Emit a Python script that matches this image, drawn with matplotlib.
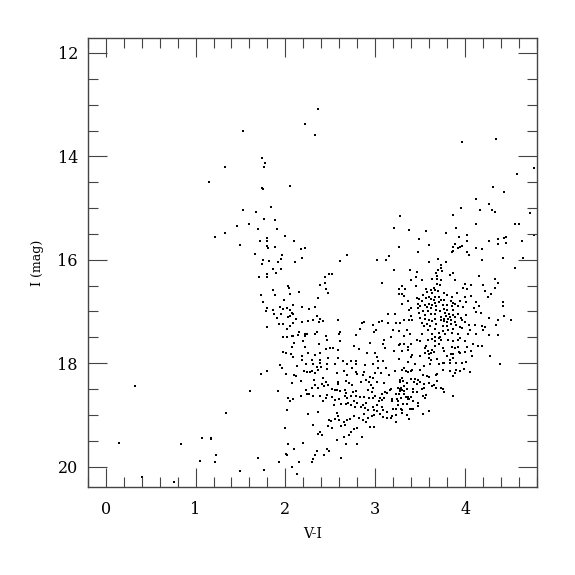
import numpy as np
import matplotlib
matplotlib.use('Agg')
import matplotlib.pyplot as plt
from matplotlib.ticker import MultipleLocator

# (V-I, I) pairs, grouped by region
bright = [(1.33,14.21),(1.15,14.50),(2.36,13.09),(2.22,13.37),(1.53,13.50),(2.33,13.59),(1.74,14.03),(1.77,14.12),(1.76,14.21),(2.05,14.58),(1.74,14.62),(3.97,13.72),(4.34,13.66),(4.77,14.22),(4.58,14.34),(4.31,14.60),(1.46,15.34),(1.33,15.48),(1.22,15.55)]

blue_branch = [(1.75,14.63),(1.84,14.98),(1.53,15.03),(1.67,15.08),(1.76,15.21),(1.88,15.23),(1.59,15.30),(1.69,15.40),(1.91,15.41),(2.00,15.54),(1.80,15.57),(1.72,15.63),(1.79,15.63),(2.10,15.63),(1.50,15.71),(1.79,15.74),(1.81,15.78),(1.88,15.76),(2.17,15.80),(2.22,15.77),(1.66,15.89),(1.96,15.91),(1.95,15.98),(1.75,16.01),(1.82,16.02),(2.19,15.97),(2.11,16.04),(1.74,16.09),(1.92,16.04),(1.86,16.18),(1.95,16.18),(1.90,16.25),(1.80,16.28),(1.80,16.34),(1.71,16.34),(2.61,16.03),(2.68,15.90),(3.02,16.01),(3.12,16.01),(3.15,15.92),(2.49,16.27),(2.52,16.28),(2.44,16.34),(2.44,16.44),(2.39,16.48),(2.45,16.56),(2.47,16.65),(3.08,16.44),(1.86,16.59),(2.03,16.51),(2.04,16.55),(1.88,16.68),(2.05,16.67),(2.15,16.63),(1.73,16.68),(2.36,16.74),(1.98,16.78),(1.75,16.81),(2.09,16.87),(2.33,16.92),(1.94,16.91),(2.02,16.94),(2.18,16.92),(1.79,16.93),(1.86,16.97),(1.78,17.00),(2.05,16.98),(2.26,16.96),(1.97,16.96),(1.95,17.04),(2.07,17.03),(1.87,17.05),(2.05,17.08),(2.08,17.05),(2.03,17.10),(1.91,17.12),(2.12,17.14),(2.35,17.09),(2.38,17.14),(2.42,17.18),(2.25,17.19),(2.19,17.21),(2.31,17.16),(2.37,17.21),(2.58,17.16),(3.14,17.05),(2.85,17.22),(2.88,17.21),(3.04,17.20),(3.07,17.18),(3.14,17.23),(2.97,17.27),(2.83,17.34),(3.01,17.36),(2.99,17.39),(2.78,17.46),(1.93,17.24),(1.97,17.25),(1.80,17.30),(2.08,17.22),(2.05,17.28),(2.02,17.34),(2.15,17.39),(2.22,17.43),(2.24,17.44),(2.14,17.46),(2.07,17.48),(2.09,17.48),(2.22,17.47),(2.33,17.43),(2.35,17.39),(2.45,17.48),(2.60,17.43),(2.61,17.39),(1.97,17.50),(2.02,17.50)]

red_upper = [(4.43,14.68),(4.12,14.82),(4.27,14.92),(3.95,14.99),(4.16,15.03),(4.30,15.03),(4.33,15.08),(4.72,15.09),(3.28,15.16),(3.87,15.14),(4.12,15.30),(4.55,15.31),(4.60,15.30),(3.21,15.39),(3.38,15.42),(3.56,15.45),(3.90,15.39),(3.79,15.49),(4.02,15.52),(4.77,15.53),(3.93,15.56),(3.49,15.60),(4.02,15.63),(4.36,15.59),(4.43,15.57),(4.45,15.56),(4.27,15.64),(4.46,15.67),(4.63,15.64),(4.37,15.70),(3.89,15.70),(3.60,15.71),(3.97,15.74),(3.94,15.76),(3.92,15.77),(3.86,15.76),(3.26,15.76),(4.12,15.77),(4.19,15.79),(3.85,15.85),(3.87,15.83),(4.02,15.85),(4.04,15.90),(3.47,15.85),(4.42,15.96),(4.64,15.96),(4.19,16.01),(3.60,16.04),(3.79,16.04),(3.70,15.99),(4.55,16.15),(3.21,16.20),(3.39,16.20),(3.46,16.23),(3.73,16.11),(3.73,16.16),(3.70,16.19),(3.74,16.21),(3.83,16.29),(3.87,16.25),(3.68,16.26),(3.69,16.31),(3.63,16.37),(3.45,16.34),(3.40,16.39),(3.52,16.40),(3.69,16.37),(3.73,16.39),(4.15,16.32),(4.33,16.37),(3.89,16.40),(4.37,16.45),(4.00,16.47),(3.72,16.48),(3.69,16.47),(4.20,16.48),(4.06,16.49),(3.45,16.50),(3.30,16.50),(3.33,16.57),(3.26,16.57),(3.56,16.57),(3.65,16.54),(3.98,16.54),(4.02,16.56),(3.62,16.59),(3.67,16.59),(4.22,16.61),(4.33,16.55),(3.30,16.66),(3.26,16.66),(3.58,16.63),(3.63,16.65),(3.70,16.61),(3.76,16.65),(3.91,16.65),(4.07,16.70),(3.32,16.70),(3.53,16.68),(3.60,16.71),(3.66,16.71),(3.71,16.72),(3.80,16.68),(3.85,16.71),(4.00,16.72),(4.25,16.71),(4.29,16.66),(3.46,16.73),(3.49,16.76),(3.56,16.74),(3.62,16.76),(3.65,16.77),(3.73,16.77),(3.76,16.77),(3.84,16.79),(3.36,16.80),(3.52,16.79),(3.66,16.84),(3.71,16.82),(3.86,16.83),(3.89,16.85),(3.94,16.79),(4.01,16.81),(4.12,16.81),(4.42,16.82),(3.47,16.85),(3.55,16.87),(3.60,16.85),(3.63,16.88),(3.75,16.87),(3.80,16.87),(3.30,16.86),(3.50,16.89),(3.57,16.91),(3.68,16.90),(3.85,16.90),(3.92,16.89),(3.98,16.92),(4.15,16.90),(4.42,16.89),(4.10,16.94),(3.40,16.93),(3.47,16.94),(3.62,16.94),(3.76,16.95),(3.37,16.98),(3.53,16.99),(3.59,16.99),(3.68,16.97),(3.72,17.00),(3.80,16.98),(3.87,16.97),(4.12,17.01),(4.18,17.02),(3.22,17.05),(3.49,17.03),(3.55,17.07),(3.62,17.05),(3.67,17.05),(3.78,17.03),(3.82,17.04),(3.86,17.06),(3.92,17.05),(4.01,17.07),(3.40,17.08),(3.73,17.10),(3.79,17.08),(3.83,17.10),(3.89,17.10),(4.26,17.12),(4.43,17.08),(3.50,17.12),(3.55,17.14),(3.67,17.14),(3.76,17.14),(3.81,17.14),(3.95,17.12),(3.32,17.16),(3.37,17.16),(3.41,17.16),(3.60,17.16),(3.73,17.17),(3.84,17.16),(3.97,17.17),(3.63,17.19),(3.77,17.19),(3.80,17.21),(3.89,17.21),(4.00,17.21),(4.36,17.17),(4.51,17.17),(3.23,17.23),(3.27,17.23),(3.52,17.23),(3.58,17.25),(3.68,17.25),(3.84,17.25),(3.90,17.26),(4.11,17.27),(4.34,17.26),(4.19,17.28),(3.54,17.28),(3.61,17.29),(3.75,17.29),(3.80,17.28),(3.94,17.30),(4.04,17.27),(3.67,17.33),(3.87,17.33),(3.97,17.32),(4.22,17.30),(3.20,17.36),(3.26,17.37),(3.35,17.36),(3.59,17.36),(3.75,17.37),(3.81,17.36),(4.05,17.36),(4.20,17.36),(3.52,17.43),(3.63,17.43),(3.71,17.42),(3.78,17.43),(3.85,17.41),(3.92,17.43),(4.03,17.44),(4.12,17.43),(4.27,17.46),(4.36,17.46),(3.39,17.43),(3.18,17.50),(3.32,17.48),(3.67,17.50),(3.72,17.50)]

faint_blue = [(0.33,18.45),(1.34,18.97),(0.15,19.55),(0.84,19.57),(1.07,19.45),(1.17,19.44),(1.17,19.46),(1.23,19.77),(1.05,19.90),(1.22,19.92),(0.40,20.21),(0.76,20.29)]

faint_mid = [(2.10,17.61),(2.20,17.57),(2.37,17.62),(2.46,17.55),(2.61,17.58),(2.07,17.68),(2.22,17.68),(2.45,17.73),(2.50,17.70),(2.53,17.70),(2.58,17.74),(2.76,17.66),(2.82,17.73),(2.94,17.60),(3.09,17.62),(3.10,17.55),(3.11,17.71),(1.97,17.79),(2.01,17.80),(2.06,17.83),(2.25,17.81),(2.33,17.85),(2.39,17.81),(2.19,17.86),(2.08,17.88),(2.18,17.93),(2.30,17.94),(2.39,17.94),(2.47,17.89),(2.58,17.89),(2.91,17.81),(3.00,17.80),(3.02,17.88),(3.03,17.96),(3.09,17.95),(1.94,18.03),(1.96,18.09),(2.13,18.05),(2.23,18.01),(2.31,18.01),(2.39,17.99),(2.46,18.01),(2.35,18.08),(2.40,18.08),(2.46,18.12),(2.55,18.01),(2.64,17.96),(2.69,18.01),(2.73,17.96),(2.78,17.96),(2.79,18.01),(2.74,18.09),(2.89,18.03),(2.98,18.01),(3.03,18.09),(1.73,18.21),(1.79,18.15),(2.01,18.21),(2.10,18.22),(2.12,18.25),(2.21,18.16),(2.24,18.17),(2.27,18.17),(2.30,18.16),(2.33,18.19),(2.36,18.14),(2.57,18.19),(2.65,18.16),(2.69,18.22),(2.79,18.17),(2.80,18.20),(2.86,18.22),(2.87,18.17),(2.94,18.26),(2.97,18.28),(3.00,18.19),(3.06,18.18),(3.12,18.10),(2.17,18.35),(2.07,18.39),(2.32,18.32),(2.42,18.28),(2.45,18.36),(2.33,18.42),(2.36,18.47),(2.41,18.41),(2.43,18.44),(2.47,18.43),(2.52,18.49),(2.55,18.52),(2.59,18.41),(2.59,18.36),(2.67,18.34),(2.71,18.38),(2.74,18.43),(2.84,18.36),(2.90,18.33),(2.93,18.37),(2.95,18.43),(3.02,18.36),(3.10,18.39),(1.61,18.54),(1.92,18.54),(2.23,18.52),(2.30,18.47),(2.57,18.52),(2.61,18.54),(2.66,18.52),(2.67,18.57),(2.75,18.56),(2.79,18.53),(2.92,18.51),(2.96,18.55),(2.97,18.48),(3.08,18.59),(3.11,18.55),(3.13,18.57),(2.24,18.59),(2.26,18.60),(2.31,18.63),(2.17,18.63),(2.03,18.68),(2.05,18.73),(2.09,18.70),(2.39,18.63),(2.46,18.61),(2.45,18.68),(2.52,18.65),(2.55,18.71),(2.60,18.70),(2.66,18.64),(2.68,18.68),(2.73,18.64),(2.78,18.63),(2.83,18.65),(2.88,18.65),(2.93,18.68),(2.97,18.68),(3.00,18.63),(3.05,18.68),(3.07,18.72),(3.10,18.68),(2.02,18.90),(2.25,18.98),(2.36,18.95),(2.42,18.74),(2.54,18.81),(2.62,18.79),(2.67,18.78),(2.70,18.76),(2.73,18.81),(2.76,18.74),(2.77,18.85),(2.80,18.76),(2.84,18.84),(2.86,18.81),(2.89,18.86),(2.92,18.90),(2.90,18.76),(2.97,18.84),(2.99,18.90),(3.02,18.81),(3.04,18.74),(3.02,18.93),(3.08,18.84),(3.09,18.90),(3.13,18.95),(3.13,19.05),(2.57,18.97),(2.59,19.02),(2.48,19.09),(2.51,19.12),(2.55,19.08),(2.60,19.10),(2.65,19.14),(2.68,19.10),(2.72,19.07),(2.76,19.03),(2.82,19.05),(2.86,19.10),(2.90,19.13),(2.87,18.99),(2.92,19.06),(2.96,19.02),(2.99,19.00),(3.05,18.99),(3.09,19.04),(2.47,19.21),(2.52,19.26),(2.62,19.22),(2.66,19.19),(2.31,19.19),(2.73,19.34),(2.76,19.28),(2.71,19.39),(2.65,19.43),(2.80,19.25),(2.85,19.42),(2.94,19.23),(2.99,19.23),(2.00,19.26),(2.36,19.37),(2.38,19.34),(2.41,19.39),(2.03,19.56),(2.20,19.55),(2.57,19.49),(2.67,19.56),(2.80,19.57),(2.10,19.65),(2.35,19.70),(2.46,19.66),(2.48,19.70),(2.33,19.78),(2.43,19.77),(2.01,19.75),(2.02,19.78),(2.62,19.83),(1.70,19.83),(2.31,19.85),(2.30,19.92),(1.93,19.92),(2.15,19.92),(2.07,20.01),(1.76,20.06),(2.13,20.14),(1.50,20.08)]

faint_red = [(3.27,17.63),(3.32,17.62),(3.26,17.65),(3.21,17.76),(3.30,17.77),(3.36,17.69),(3.36,17.74),(3.40,17.62),(3.46,17.55),(3.50,17.57),(3.56,17.66),(3.55,17.70),(3.59,17.55),(3.63,17.54),(3.66,17.57),(3.71,17.52),(3.73,17.55),(3.71,17.62),(3.67,17.67),(3.63,17.75),(3.59,17.76),(3.65,17.79),(3.62,17.80),(3.60,17.83),(3.55,17.81),(3.50,17.86),(3.41,17.84),(3.40,17.88),(3.26,17.92),(3.75,17.71),(3.77,17.76),(3.81,17.56),(3.86,17.57),(3.92,17.55),(3.94,17.52),(4.00,17.58),(3.85,17.69),(3.89,17.70),(3.92,17.69),(4.02,17.69),(4.09,17.63),(4.00,17.79),(4.07,17.77),(3.93,17.79),(3.94,17.80),(3.84,17.83),(3.86,17.83),(3.80,17.87),(3.86,17.89),(3.83,17.94),(4.14,17.67),(4.19,17.67),(4.28,17.86),(4.39,18.01),(4.08,17.86),(3.60,17.89),(3.62,17.94),(3.69,17.92),(3.71,18.01),(3.75,17.99),(3.76,17.99),(3.83,17.99),(3.90,17.99),(3.97,18.00),(4.01,17.98),(3.61,18.01),(3.54,18.05),(3.44,18.01),(3.50,18.13),(3.36,17.97),(3.32,18.10),(3.34,18.16),(3.36,18.17),(3.30,18.13),(3.40,18.16),(3.41,18.14),(3.22,18.15),(3.15,18.23),(3.30,18.29),(3.28,18.32),(3.31,18.34),(3.27,18.36),(3.40,18.31),(3.44,18.30),(3.48,18.33),(3.50,18.36),(3.43,18.36),(3.53,18.23),(3.58,18.25),(3.60,18.26),(3.68,18.22),(3.69,18.20),(3.75,18.14),(3.83,18.15),(3.87,18.24),(3.89,18.18),(3.90,18.13),(3.94,18.16),(3.99,18.12),(4.05,18.17),(3.69,18.34),(3.60,18.39),(3.65,18.42),(3.63,18.45),(3.54,18.41),(3.46,18.40),(3.35,18.38),(3.32,18.44),(3.29,18.47),(3.27,18.49),(3.25,18.47),(3.17,18.49),(3.16,18.51),(3.27,18.53),(3.30,18.52),(3.32,18.54),(3.35,18.50),(3.42,18.50),(3.46,18.55),(3.42,18.56),(3.52,18.50),(3.54,18.48),(3.68,18.48),(3.73,18.48),(3.75,18.50),(3.76,18.56),(3.23,18.60),(3.26,18.59),(3.32,18.60),(3.36,18.65),(3.40,18.66),(3.36,18.70),(3.37,18.70),(3.34,18.66),(3.29,18.67),(3.24,18.69),(3.19,18.70),(3.19,18.74),(3.25,18.74),(3.42,18.74),(3.53,18.64),(3.55,18.68),(3.56,18.61),(3.87,18.63),(3.31,18.79),(3.35,18.79),(3.25,18.81),(3.47,18.77),(3.48,18.82),(3.20,18.88),(3.23,18.89),(3.29,18.88),(3.30,18.91),(3.39,18.88),(3.41,18.89),(3.42,18.88),(3.23,19.00),(3.35,19.00),(3.19,19.02),(3.18,19.05),(3.53,18.99),(3.60,18.93),(3.37,19.08),(3.23,19.13),(3.30,18.97)]

stars = np.array(bright + blue_branch + red_upper + faint_blue + faint_mid + faint_red)
vi = stars[:, 0]
imag = stars[:, 1]

plt.rcParams['font.family'] = 'DejaVu Serif'

fig = plt.figure(figsize=(5.75, 5.75), dpi=100)
ax = fig.add_axes([0.1525, 0.1525, 0.7815, 0.7815])

ax.scatter(vi, imag, s=3.0, marker='s', c='black', linewidths=0)

ax.set_xlim(-0.2, 4.8)
ax.set_ylim(20.4, 11.71)
ax.xaxis.set_major_locator(MultipleLocator(1))
ax.xaxis.set_minor_locator(MultipleLocator(0.2))
ax.yaxis.set_major_locator(MultipleLocator(2))
ax.yaxis.set_minor_locator(MultipleLocator(0.5))

ax.tick_params(which='both', direction='in', top=True, right=True,
               color='#444444', width=0.8, labelsize=11.5)
ax.tick_params(which='major', length=13.5)
ax.tick_params(which='minor', length=7)
ax.tick_params(axis='x', pad=10)
ax.tick_params(axis='y', pad=7)
for sp in ax.spines.values():
    sp.set_color('#444444')
    sp.set_linewidth(1.0)

ax.set_xlabel('V-I', fontsize=10, labelpad=6)
ax.set_ylabel('I (mag)', fontsize=9, labelpad=10)

fig.savefig('out.png', dpi=100)
